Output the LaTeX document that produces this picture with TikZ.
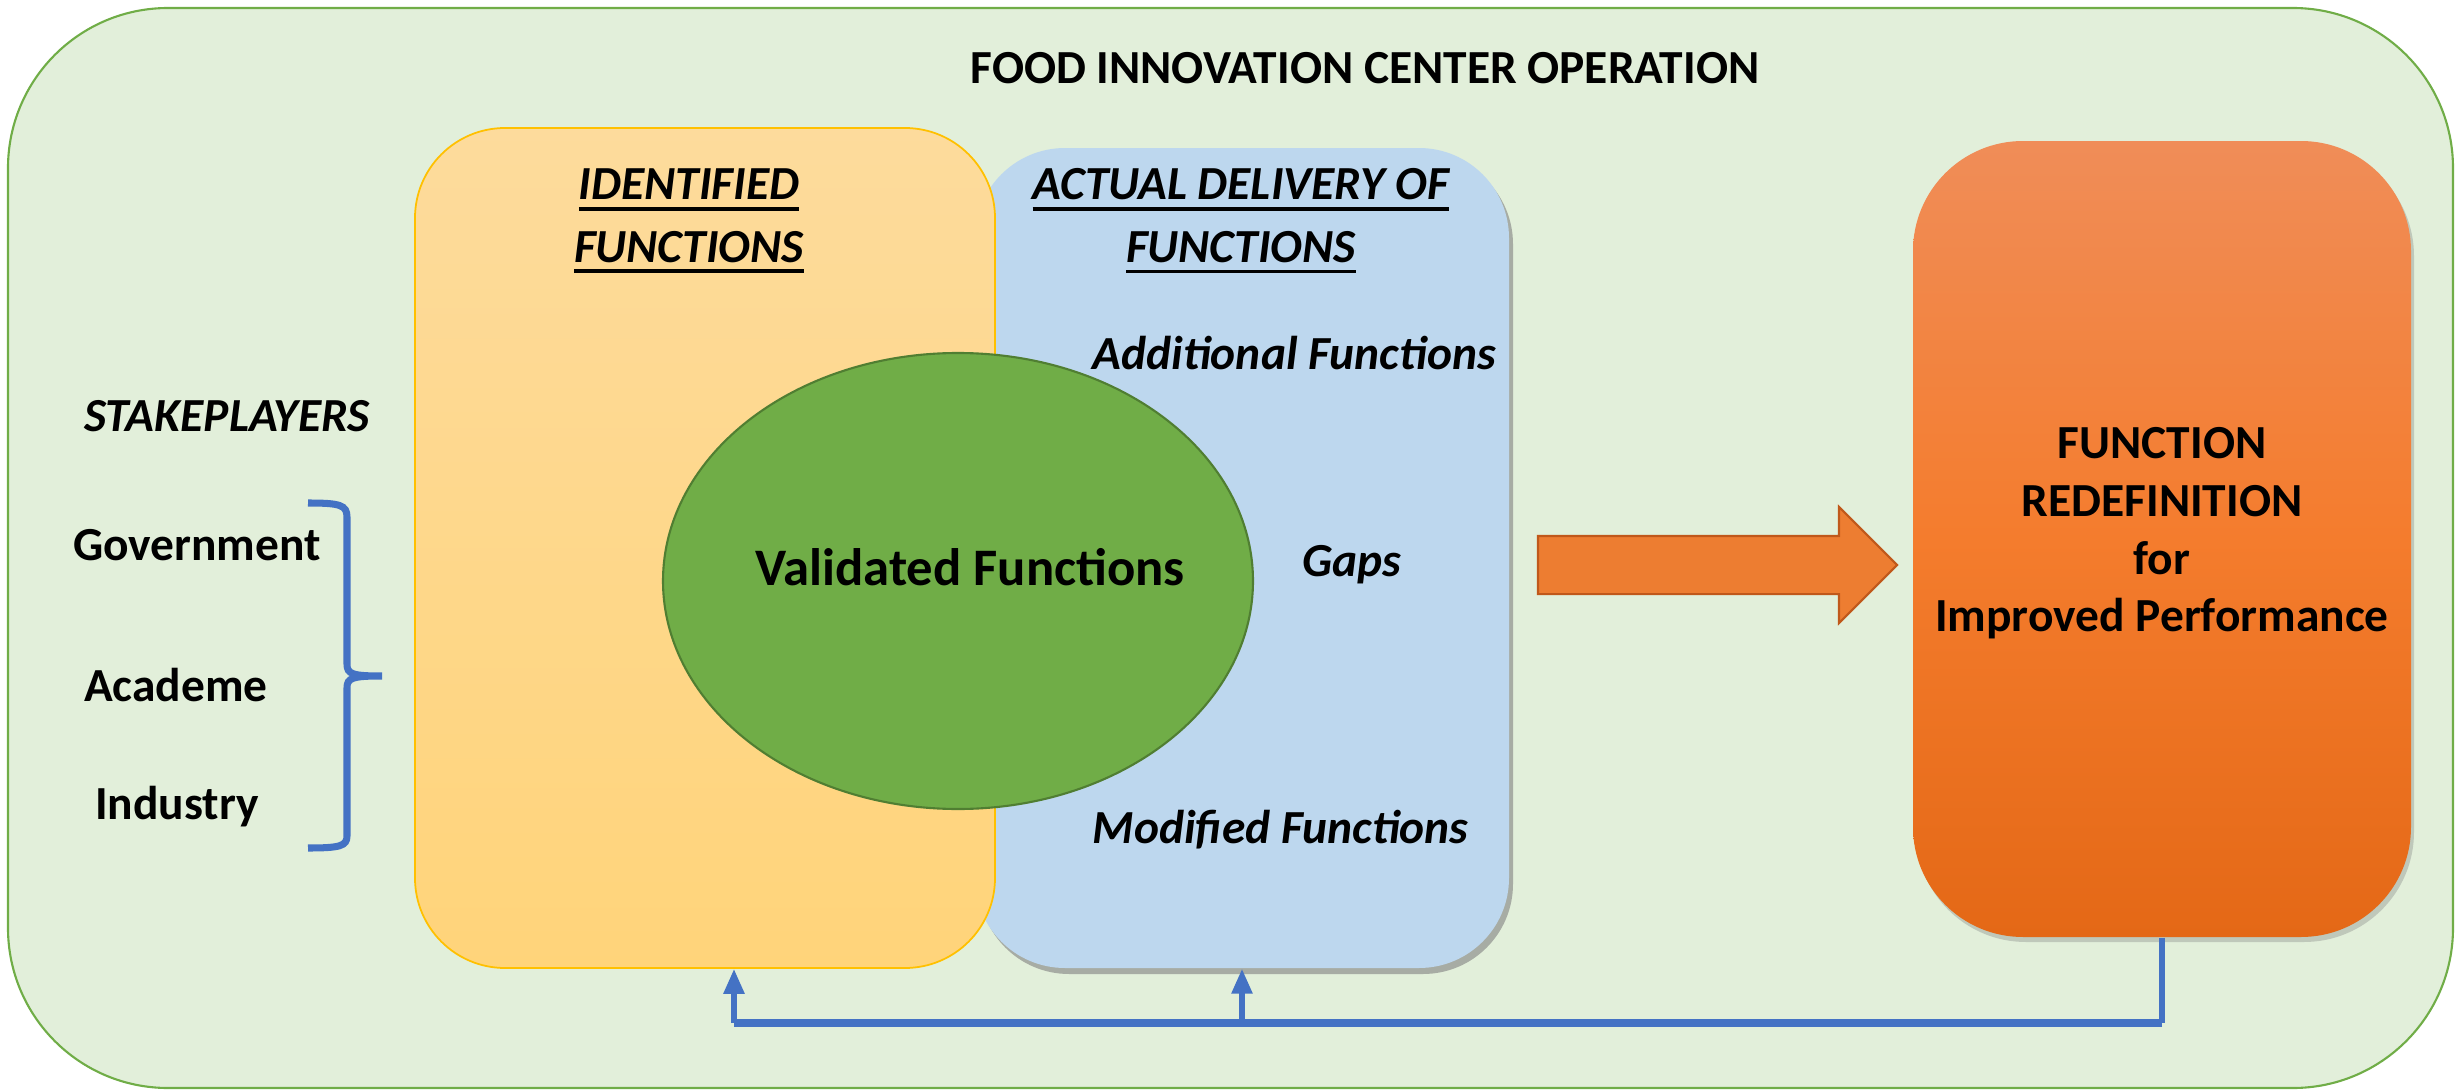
\documentclass[tikz,border=0pt]{standalone}
\usepackage{fontspec}
\setmainfont{Carlito}
\usetikzlibrary{arrows.meta,positioning,shapes.geometric,shapes.arrows,shadows}

\definecolor{bggreen}{HTML}{E2EFDA}
\definecolor{bgedge}{HTML}{70AD47}
\definecolor{ylwtop}{HTML}{FDDB9C}
\definecolor{ylwbot}{HTML}{FFD47A}
\definecolor{ylwedge}{HTML}{FFC000}
\definecolor{bluefill}{HTML}{BDD7EE}
\definecolor{ellfill}{HTML}{70AD47}
\definecolor{elledge}{HTML}{507E32}
\definecolor{orgtop}{HTML}{F08D58}
\definecolor{orgmid}{HTML}{F47C2D}
\definecolor{orgbot}{HTML}{E46816}
\definecolor{arrfill}{HTML}{ED7D31}
\definecolor{arredge}{HTML}{C0581A}
\definecolor{fbblue}{HTML}{4472C4}

\newcommand{\hdul}[1]{\setbox0\hbox{#1}\rlap{\rule[-3.2pt]{\wd0}{1.1pt}}\box0}

\begin{document}
\begin{tikzpicture}[>={Triangle[width=2mm,length=2.5mm]},
                    font=\bfseries\fontsize{13.5}{16.8}\selectfont,
                    every node/.style={inner sep=0pt}]
  \tikzstyle{column}=[rectangle, rounded corners=0.9cm, minimum width=5.8cm]
  \tikzstyle{slanted}=[font=\bfseries\itshape\fontsize{13.5}{16.8}\selectfont]
  \tikzstyle{feedback}=[fbblue, line width=1.6pt]

  \useasboundingbox (0,0) rectangle (24.58,-10.91);

  \node[rectangle, rounded corners=1.6cm, fill=bggreen, draw=bgedge, line width=0.6pt,
        minimum width=24.45cm, minimum height=10.8cm] (fic) at (12.305,-5.48) {};
  \node (title) at (13.65,-0.68) {FOOD INNOVATION CENTER OPERATION};

  % stakeholders and brace
  \node[slanted] (stake) at (2.27,-4.16) {STAKEPLAYERS};
  \node (gov) at (1.97,-5.45) {Government};
  \node (acad) at (1.76,-6.85) {Academe};
  \node (ind) at (1.77,-8.07) {Industry};
  \draw[fbblue, line width=2pt]
    (3.08,-5.03) .. controls (3.40,-5.03) and (3.47,-5.05) .. (3.47,-5.17)
    -- (3.47,-6.64) .. controls (3.47,-6.74) and (3.52,-6.76) .. (3.82,-6.76)
    (3.82,-6.76) .. controls (3.52,-6.76) and (3.47,-6.78) .. (3.47,-6.88)
    -- (3.47,-8.36) .. controls (3.47,-8.46) and (3.40,-8.48) .. (3.08,-8.48);

  % the two columns
  \node[column, fill=bluefill, minimum width=5.34cm, minimum height=8.2cm,
        drop shadow={shadow xshift=0.04cm, shadow yshift=-0.06cm, opacity=0.6}]
        (blue) at (12.42,-5.58) {};
  \node[column, top color=ylwtop, bottom color=ylwbot, draw=ylwedge, line width=0.5pt,
        minimum height=8.4cm] (yellow) at (7.05,-5.48) {};
  \node[slanted, align=center] (idf) at (6.89,-2.21)
        {\hdul{IDENTIFIED}\\[1pt]\hdul{FUNCTIONS}};
  \node[slanted, align=center] (adf) at (12.41,-2.21)
        {\hdul{ACTUAL DELIVERY OF}\\[1pt]\hdul{FUNCTIONS}};

  \node[ellipse, fill=ellfill, draw=elledge, line width=0.6pt,
        minimum width=5.9cm, minimum height=4.56cm] (valid) at (9.58,-5.81) {};
  \node[font=\bfseries\fontsize{15}{18}\selectfont] (vtxt) at (9.70,-5.67) {Validated Functions};

  \node[slanted, anchor=west] (add) at (10.92,-3.53) {Additional Functions};
  \node[slanted] (gaps) at (13.52,-5.65) {Gaps};
  \node[slanted, anchor=west] (mod) at (10.92,-8.30) {Modified Functions};

  % redefinition
  \node[single arrow, single arrow head extend=0.29cm, inner sep=0.28cm,
        minimum height=3.59cm, fill=arrfill, draw=arredge, line width=0.6pt]
        (arr) at (17.03,-5.65) {};
  \node[rectangle, rounded corners=1.1cm, minimum width=4.98cm, minimum height=7.96cm,
        top color=orgtop, bottom color=orgbot, middle color=orgmid,
        drop shadow={shadow xshift=0.03cm, shadow yshift=-0.05cm, opacity=0.35}]
        (redef) at (21.62,-5.39) {};
  \node[align=center, font=\bfseries\fontsize{13.5}{16.4}\selectfont] (rtxt) at (21.62,-5.335)
        {FUNCTION\\REDEFINITION\\for\\Improved Performance};

  % feedback loop
  \coordinate (fb) at (redef.south |- 0,-10.23);
  \coordinate (fby) at (7.34,-10.23);
  \coordinate (fbb) at (blue.south |- fb);
  \draw[feedback] (redef.south) -- (fb);
  \draw[feedback, line width=2.4pt] (fb) -- (fby);
  \draw[feedback, ->] (fby) -- (fby |- yellow.south);
  \draw[feedback, ->] (fbb) -- (blue.south);
\end{tikzpicture}
\end{document}
